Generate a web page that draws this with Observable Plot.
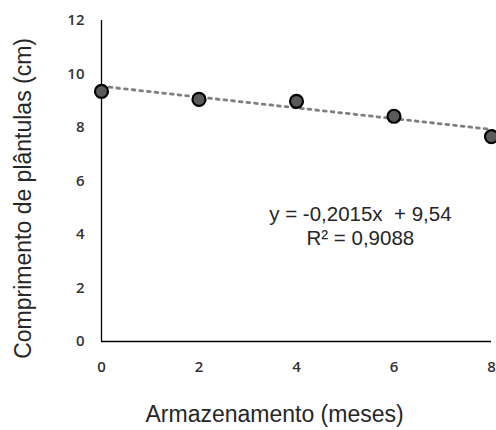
<!DOCTYPE html>
<html>
<head>
<meta charset="utf-8">
<script src="https://cdn.jsdelivr.net/npm/d3@7"></script>
<script src="https://cdn.jsdelivr.net/npm/@observablehq/plot@0.6"></script>
<style>
  html, body { margin: 0; padding: 0; background: #fff; overflow: hidden; }
  #chart svg { display: block; overflow: visible; }
</style>
</head>
<body>
<div id="chart"></div>
<script>
// Seedling length over storage time
const months = [0, 2, 4, 6, 8];
const lengthCm = [9.35, 9.05, 8.98, 8.42, 7.66];
const xTicks = [0, 2, 4, 6, 8];
const yTicks = [0, 2, 4, 6, 8, 10, 12];

// Linear trend reported on the chart
const slope = -0.2015;
const intercept = 9.54;
const rSquared = "0,9088";
const equationText = "y = -0,2015x  + 9,54\nR² = " + rSquared;
const xTitle = "Armazenamento (meses)";
const yTitle = "Comprimento de plântulas (cm)";

const points = months.map((m, i) => ({month: m, length: lengthCm[i]}));
const trend = [months[0], months[months.length - 1]].map(m => ({month: m, length: intercept + slope * m}));

const chart = Plot.plot({
  width: 496,
  height: 430,
  marginLeft: 101,
  marginRight: 5,
  marginTop: 20,
  marginBottom: 89,
  style: {background: "#fff"},
  x: {domain: [0, 8], ticks: xTicks, label: null},
  y: {domain: [0, 12], ticks: yTicks, label: null},
  marks: [
    Plot.axisX({ticks: xTicks, tickSize: 0, tickPadding: 20, fontSize: 15, fontWeight: 600, fill: "#333",
      fontFamily: "Open Sans", tickFormat: d => String(d), label: null}),
    Plot.axisY({ticks: yTicks, tickSize: 0, tickPadding: 17, fontSize: 15, fontWeight: 600, fill: "#333",
      fontFamily: "Open Sans", tickFormat: d => String(d), label: null}),
    Plot.ruleX([0], {stroke: "#000", strokeWidth: 1.3}),
    Plot.ruleY([0], {stroke: "#000", strokeWidth: 1.3}),
    Plot.line(trend, {x: "month", y: "length", stroke: "#7f7f7f", strokeWidth: 2.8,
      strokeDasharray: "2.8 4.9"}),
    Plot.dot(points, {x: "month", y: "length", r: 6.5, fill: "#5a5a5a", stroke: "#000", strokeWidth: 2.2}),
    // regression equation, centred below the points
    Plot.text([equationText], {x: 5.31, y: 4.34, text: d => d, textAnchor: "middle", lineAnchor: "middle",
      lineHeight: 1.17, fontSize: 20.5, fontFamily: "Liberation Sans", fill: "#262626"}),
    // axis titles
    Plot.text([xTitle], {x: 3.55, y: -2.72, text: d => d, textAnchor: "middle", lineAnchor: "middle",
      fontSize: 23, fontFamily: "Liberation Sans", fill: "#262626"}),
    Plot.text([yTitle], {x: -1.6, y: 5.35, text: d => d, rotate: -90, textAnchor: "middle",
      lineAnchor: "middle", fontSize: 23, fontFamily: "Liberation Sans", fill: "#262626"})
  ]
});
document.getElementById("chart").appendChild(chart);
</script>
</body>
</html>
